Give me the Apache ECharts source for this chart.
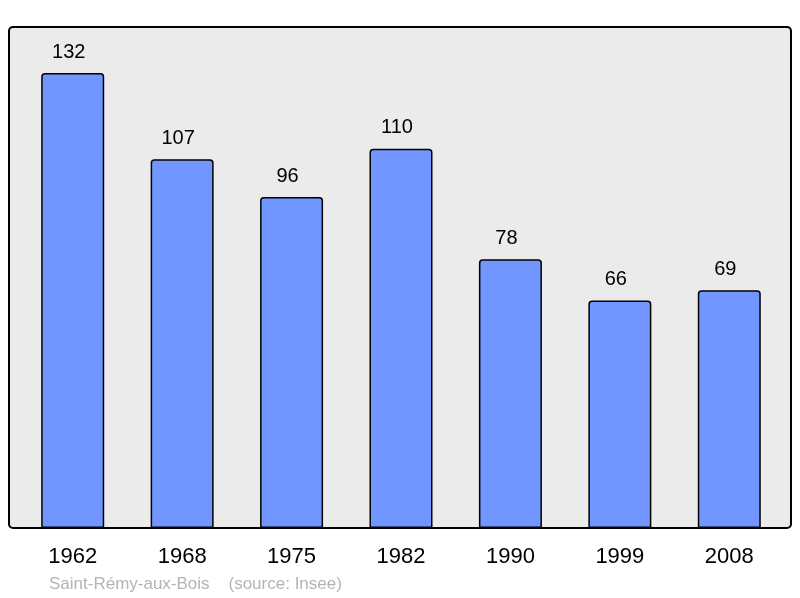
<!DOCTYPE html>
<html>
<head>
<meta charset="utf-8">
<script src="https://cdn.jsdelivr.net/npm/echarts@6/dist/echarts.min.js"></script>
<style>
html,body{margin:0;padding:0;background:#fff;}
#c{width:800px;height:598px;}
</style>
</head>
<body>
<div id="c"></div>
<script>
var years = ['1962','1968','1975','1982','1990','1999','2008'];
var population = [132,107,96,110,78,66,69];
var footer = 'Saint-Rémy-aux-Bois    (source: Insee)';

var chart = echarts.init(document.getElementById('c'));
chart.setOption({
  animation: false,
  backgroundColor: '#ffffff',
  graphic: [
    {type:'rect', z:-10, shape:{x:9, y:27, width:782, height:501, r:4},
     style:{fill:'#ebebeb', stroke:'#000', lineWidth:2}},
    {type:'text', left:49, top:576,
     style:{text:footer, fill:'#b4b4b4', font:'17px "Liberation Sans", Arial, sans-serif'}}
  ],
  grid: {left:18, right:16, top:11, bottom:70},
  xAxis: {
    type:'category', data: years,
    axisLine:{show:false}, axisTick:{show:false},
    axisLabel:{color:'#000', fontSize:22, fontFamily:'"Liberation Sans", Arial, sans-serif', margin:18}
  },
  yAxis: {type:'value', min:0, max:150, show:false, splitLine:{show:false}},
  series: [{
    type:'bar', data: population, barWidth:63,
    itemStyle:{color:'#7196ff', borderColor:'#000', borderWidth:1.5, borderRadius:[3,3,0,0]},
    label:{show:true, position:'top', distance:11, offset:[-4,0], color:'#000', fontSize:20,
      fontFamily:'"Liberation Sans", Arial, sans-serif'}
  }]
});
</script>
</body>
</html>
